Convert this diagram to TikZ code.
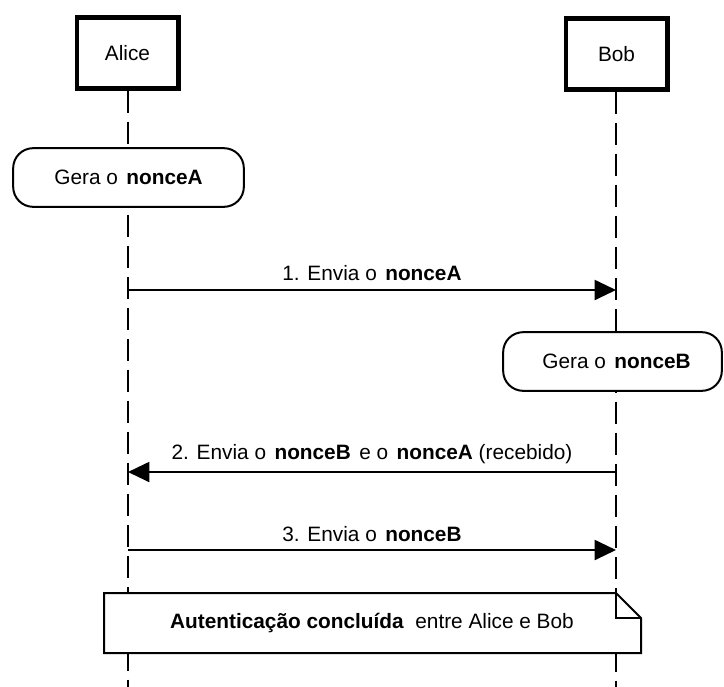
\documentclass[tikz,border=0pt]{standalone}
\usepackage{fontspec}
\setmainfont{Liberation Sans}
\usetikzlibrary{arrows.meta}
\newcommand{\gp}{\ \hspace{2pt}}

\begin{document}
\begin{tikzpicture}[x=0.75pt,y=-0.75pt,
    font=\fontsize{15.6}{18}\selectfont,
    actor/.style={draw, line width=3.5pt, fill=white, minimum width=76pt, minimum height=53pt},
    lifeline/.style={line width=1.5pt, dash pattern=on 16.5pt off 6.75pt},
    action/.style={draw, line width=1.5pt, fill=white, rounded corners=15pt, minimum height=44pt},
    msg/.style={line width=1.5pt, -{Triangle[length=16pt,width=15pt]}}]
    \useasboundingbox (0,0) rectangle (724,686);

    % participants and their lifelines
    \node[actor] (alice) at (127.5,53) {Alice};
    \node[actor] (bob) at (616.5,54) {Bob};
    \coordinate (aliceEnd) at (128,690);
    \coordinate (bobEnd) at (616,690);
    \draw[lifeline] (alice.south -| aliceEnd) -- (aliceEnd);
    \draw[lifeline] (bob.south -| bobEnd) -- (bobEnd);

    % local steps
    \node[action, minimum width=173pt] (genA) at (128.5,177.5) {Gera o\gp\textbf{nonceA}};
    \node[action, minimum width=164pt] (genB) at (612.5,361.5) {\hspace*{6pt}Gera o\gp\textbf{nonceB}};

    % messages
    \coordinate (a1) at (128,290);  \coordinate (b1) at (616,290);
    \coordinate (a2) at (128,472);  \coordinate (b2) at (616,472);
    \coordinate (a3) at (128,550);  \coordinate (b3) at (616,550);
    \draw[msg] (a1) -- (b1) node[midway, above=3pt] (m1) {1. Envia o\gp\textbf{nonceA}};
    \draw[msg] (b2) -- (a2) node[midway, above=2pt] (m2) {2. Envia o\gp\textbf{nonceB}\gp e o\gp\textbf{nonceA} (recebido)};
    \draw[msg] (a3) -- (b3) node[midway, above=2pt] (m3) {3. Envia o\gp\textbf{nonceB}};

    % note
    \filldraw[fill=white, line width=1.5pt] (104,593) -- (616,593) -- (641,618) -- (641,653) -- (104,653) -- cycle;
    \draw[line width=1.5pt] (616,593) -- (616,618) -- (641,618);
    \node (note) at (372,623) {\textbf{Autenticação concluída}\ \ entre Alice e Bob};
\end{tikzpicture}
\end{document}
